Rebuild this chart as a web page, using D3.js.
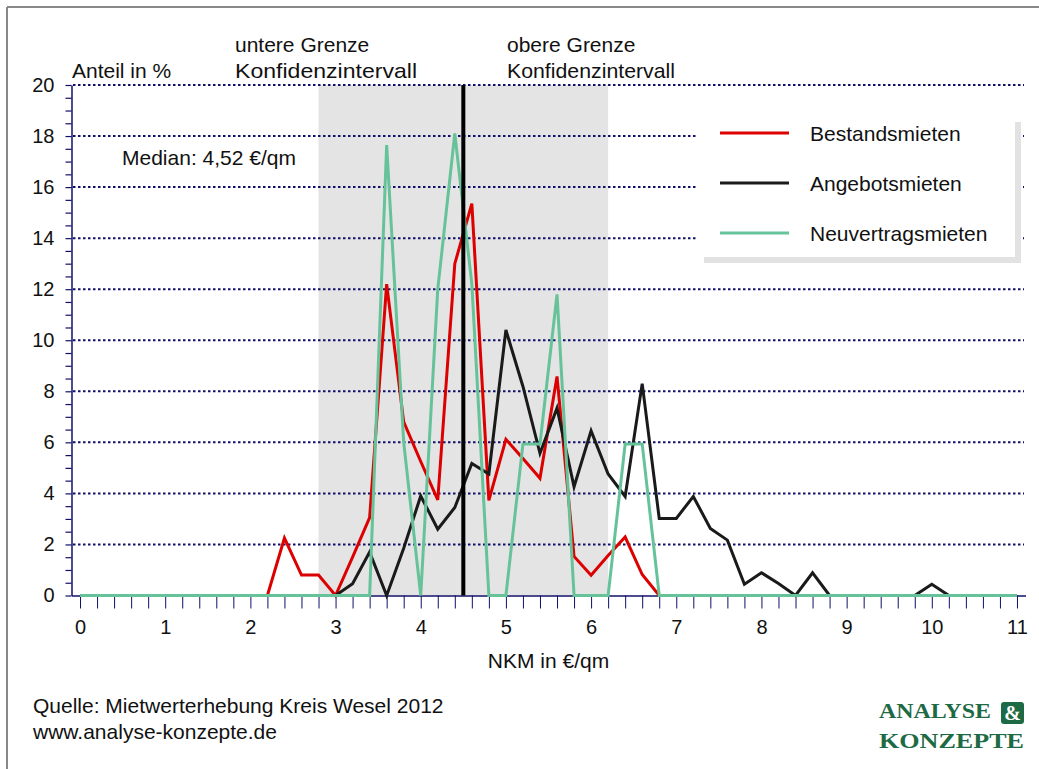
<!DOCTYPE html>
<html>
<head>
<meta charset="utf-8">
<script src="https://cdn.jsdelivr.net/npm/d3@7"></script>
<style>
  html, body { margin: 0; padding: 0; background: #fff; }
  svg { display: block; }
  text { font-family: "Liberation Sans", Arial, sans-serif; fill: #111; }
</style>
</head>
<body>
<svg id="chart" width="1039" height="769"></svg>
<script>
// ---- data ----
const xValues = d3.range(0, 56).map(i => +(i * 0.2).toFixed(1)); // NKM in €/qm, step 0.2
const bestandsmieten = [
  0,0,0,0,0,0,0,0,0,0,0,          // 0.0 - 2.0
  0, 2.25, 0.8, 0.8, 0, 1.5, 3.05, 12.2, 6.8, 5.25, 3.75, // 2.2 - 4.2
  13.0, 15.35, 3.73, 6.12, 5.37, 4.59, 8.58, 1.53, 0.79, 1.57, // 4.4 - 6.2
  2.29, 0.82, 0, 0, 0, 0, 0, 0, 0, 0, 0, 0, 0, 0, 0, 0, 0, 0, 0, 0, 0, 0, 0, 0 // 6.4 - 11.0
];
const angebotsmieten = [
  0,0,0,0,0,0,0,0,0,0,0,          // 0.0 - 2.0
  0, 0, 0, 0, 0, 0.46, 1.7, 0, 1.85, 3.9, 2.6,               // 2.2 - 4.2
  3.45, 5.17, 4.76, 10.4, 8.19, 5.57, 7.34, 4.26, 6.45, 4.76,  // 4.4 - 6.2
  3.88, 8.3, 3.02, 3.02, 3.88, 2.63, 2.17, 0.44, 0.89, 0.47,   // 6.4 - 8.2
  0, 0.89, 0, 0, 0, 0, 0, 0, 0.44, 0, 0, 0, 0, 0               // 8.4 - 11.0
];
const neuvertragsmieten = [
  0,0,0,0,0,0,0,0,0,0,0,          // 0.0 - 2.0
  0, 0, 0, 0, 0, 0, 0, 17.65, 6.0, 0, 12.0,                  // 2.2 - 4.2
  18.1, 12.2, 0, 0, 5.94, 5.94, 11.8, 0, 0, 0,                // 4.4 - 6.2
  5.94, 5.94, 0, 0, 0, 0, 0, 0, 0, 0, 0, 0, 0, 0, 0, 0, 0, 0, 0, 0, 0, 0, 0, 0 // 6.4 - 11.0
];
const seriesNames = ["Bestandsmieten", "Angebotsmieten", "Neuvertragsmieten"];
const seriesColors = ["#dd0000", "#1a1a1a", "#66c299"];
const xTickLabels = d3.range(0, 12);
const yTickLabels = d3.range(0, 21, 2);
const median = 4.5;
const medianLabel = "Median: 4,52 €/qm";
const confInterval = [2.8, 6.2];

// ---- setup ----
const svg = d3.select("#chart");
const navy = "#10106a";
const x = d3.scaleLinear().domain([-0.1, 11.1]).range([71.5, 1025.5]);
const y = d3.scaleLinear().domain([0, 20]).range([595.5, 85]);

// outer frame
svg.append("line").attr("x1", 7).attr("x2", 1039).attr("y1", 7).attr("y2", 7)
  .attr("stroke", "#888").attr("stroke-width", 2);
svg.append("line").attr("x1", 7).attr("x2", 7).attr("y1", 7).attr("y2", 769)
  .attr("stroke", "#888").attr("stroke-width", 2);

// confidence interval shading
svg.append("rect")
  .attr("x", x(confInterval[0])).attr("width", x(confInterval[1]) - x(confInterval[0]))
  .attr("y", y(20)).attr("height", y(0) - y(20))
  .attr("fill", "#e4e4e4");

// gridlines
svg.append("g").selectAll("line").data(yTickLabels.filter(d => d > 0)).join("line")
  .attr("x1", 73).attr("x2", 1024)
  .attr("y1", d => y(d)).attr("y2", d => y(d))
  .attr("stroke", navy).attr("stroke-width", 2).attr("stroke-dasharray", "2.5,2.5");

// x axis (minor ticks every 0.2)
const gx = svg.append("g").attr("transform", `translate(0,${y(0)})`)
  .call(d3.axisBottom(x).tickValues(xValues).tickSize(13).tickSizeOuter(0).tickFormat(""));
gx.select(".domain").attr("stroke", navy).attr("stroke-width", 1.5);
gx.selectAll(".tick line").attr("stroke", navy).attr("stroke-width", 1);
// x labels
const gxl = svg.append("g").attr("transform", `translate(0,${y(0)})`)
  .call(d3.axisBottom(x).tickValues(xTickLabels).tickSize(0).tickPadding(0).tickFormat(d3.format("d")));
gxl.select(".domain").remove();
gxl.selectAll("text").attr("y", 38).attr("dy", 0).attr("font-size", 20)
  .style("font-family", "'Liberation Sans', Arial, sans-serif").style("fill", "#111");

// y axis (minor ticks every 0.5)
const gy = svg.append("g").attr("transform", `translate(${x(-0.1)},0)`)
  .call(d3.axisLeft(y).tickValues(d3.range(0, 20.01, 0.5)).tickSize(6).tickSizeOuter(0).tickFormat(""));
gy.select(".domain").attr("stroke", navy).attr("stroke-width", 1.5);
gy.selectAll(".tick line").attr("stroke", navy).attr("stroke-width", 1.2);
const gyl = svg.append("g").attr("transform", `translate(${x(-0.1)},0)`)
  .call(d3.axisLeft(y).tickValues(yTickLabels).tickSize(0).tickPadding(17).tickFormat(d3.format("d")));
gyl.select(".domain").remove();
gyl.selectAll("text").attr("font-size", 20)
  .style("font-family", "'Liberation Sans', Arial, sans-serif").style("fill", "#111");

// series lines
const allSeries = [bestandsmieten, angebotsmieten, neuvertragsmieten];
const line = d3.line().x((d, i) => x(xValues[i])).y(d => y(d));
allSeries.forEach((s, k) => {
  svg.append("path").datum(s).attr("d", line)
    .attr("fill", "none").attr("stroke", seriesColors[k]).attr("stroke-width", 3)
    .attr("stroke-linejoin", "miter");
});

// median line
svg.append("line").attr("x1", x(median)).attr("x2", x(median))
  .attr("y1", y(20)).attr("y2", y(0))
  .attr("stroke", "#000").attr("stroke-width", 4);

// texts
const txt = (s, tx, ty, size, anchor) => svg.append("text").attr("x", tx).attr("y", ty)
  .attr("font-size", size).attr("text-anchor", anchor || "start").text(s);
txt("Anteil in %", 72, 78, 21);
txt("untere Grenze", 235, 52, 21);
txt("Konfidenzintervall", 235, 78, 21).attr("textLength", 182).attr("lengthAdjust", "spacingAndGlyphs");
txt("obere Grenze", 507, 52, 21);
txt("Konfidenzintervall", 507, 78, 21).attr("textLength", 168).attr("lengthAdjust", "spacingAndGlyphs");
txt(medianLabel, 122, 165, 21);
txt("NKM in €/qm", x(5.5), 668, 21, "middle");
txt("Quelle: Mietwerterhebung Kreis Wesel 2012", 33, 713, 21);
txt("www.analyse-konzepte.de", 33, 739, 21);

// legend
const lg = svg.append("g");
lg.append("rect").attr("x", 704).attr("y", 122).attr("width", 317).attr("height", 141).attr("fill", "#e2e2e2");
lg.append("rect").attr("x", 698).attr("y", 116).attr("width", 317).attr("height", 141).attr("fill", "#fff");
seriesNames.forEach((n, k) => {
  const ly = 133 + k * 50;
  lg.append("line").attr("x1", 720).attr("x2", 789).attr("y1", ly).attr("y2", ly)
    .attr("stroke", seriesColors[k]).attr("stroke-width", 3);
  lg.append("text").attr("x", 810).attr("y", ly + 8).attr("font-size", 21).text(n);
});

// logo
const logoGreen = "#1e6a45";
const serif = "'Liberation Serif', 'Times New Roman', serif";
svg.append("text").attr("x", 879).attr("y", 718).attr("font-size", 21)
  .style("font-family", serif).attr("font-weight", "bold")
  .style("fill", logoGreen).attr("textLength", 112).attr("lengthAdjust", "spacingAndGlyphs").text("ANALYSE");
svg.append("rect").attr("x", 1001).attr("y", 702).attr("width", 23).attr("height", 22).attr("rx", 3)
  .attr("fill", logoGreen);
svg.append("text").attr("x", 1012.5).attr("y", 720).attr("font-size", 20).attr("text-anchor", "middle")
  .style("font-family", serif).attr("font-weight", "bold")
  .style("fill", "#fff").text("&");
svg.append("text").attr("x", 879).attr("y", 748).attr("font-size", 21)
  .style("font-family", serif).attr("font-weight", "bold")
  .style("fill", logoGreen).attr("textLength", 145).attr("lengthAdjust", "spacingAndGlyphs").text("KONZEPTE");
</script>
</body>
</html>
